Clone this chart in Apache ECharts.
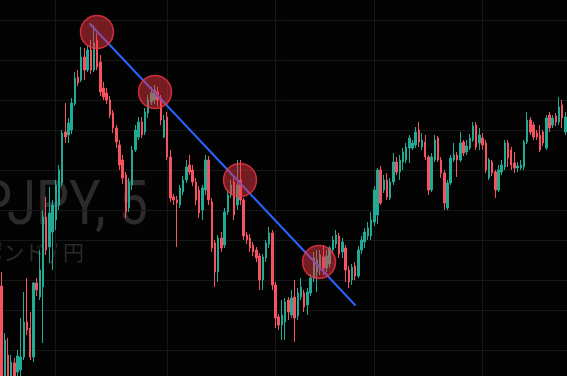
<!DOCTYPE html>
<html><head><meta charset="utf-8">
<script src="https://cdn.jsdelivr.net/npm/echarts@6/dist/echarts.min.js"></script>
<style>html,body{margin:0;padding:0;background:#030303;}#c{width:567px;height:376px;}</style>
</head><body><div id="c"></div>
<script>
const opens=[183.114,183.024,183.045,183.024,183.037,183.028,183.030,183.043,183.078,183.072,
183.043,183.117,183.103,183.113,183.183,183.153,183.168,183.180,183.195,183.217,
183.268,183.265,183.270,183.296,183.323,183.320,183.343,183.330,183.350,183.330,
183.360,183.338,183.312,183.307,183.300,183.287,183.272,183.255,183.240,183.225,
183.192,183.215,183.250,183.263,183.278,183.268,183.287,183.298,183.300,183.308,
183.302,183.263,183.283,183.243,183.203,183.200,183.195,183.208,183.220,183.235,
183.230,183.218,183.210,183.190,183.210,183.240,183.198,183.157,183.128,183.162,
183.155,183.188,183.205,183.218,183.195,183.220,183.200,183.165,183.162,183.155,
183.150,183.144,183.120,183.142,183.156,183.167,183.115,183.083,183.075,183.078,
183.100,183.085,183.103,183.084,183.103,183.107,183.095,183.107,183.122,183.128,
183.130,183.143,183.132,183.136,183.150,183.156,183.164,183.148,183.152,183.130,
183.120,183.134,183.124,183.150,183.158,183.164,183.164,183.178,183.185,183.230,
183.210,183.220,183.202,183.218,183.238,183.228,183.238,183.240,183.252,183.252,
183.255,183.270,183.253,183.258,183.243,183.210,183.240,183.262,183.240,183.227,
183.192,183.217,183.240,183.245,183.240,183.258,183.248,183.252,183.260,183.275,
183.257,183.262,183.257,183.222,183.238,183.228,183.210,183.228,183.233,183.257,
183.250,183.237,183.232,183.232,183.233,183.258,183.280,183.275,183.267,183.265,
183.268,183.252,183.285,183.275,183.284,183.278,183.295,183.268];
const closes=[183.020,183.060,183.022,183.038,183.024,183.044,183.043,183.078,183.070,183.043,
183.117,183.110,183.130,183.183,183.150,183.187,183.195,183.215,183.230,183.267,
183.263,183.277,183.297,183.322,183.317,183.343,183.330,183.350,183.330,183.357,
183.333,183.308,183.303,183.300,183.285,183.272,183.258,183.235,183.222,183.188,
183.218,183.250,183.270,183.278,183.265,183.288,183.300,183.307,183.310,183.300,
183.280,183.280,183.243,183.202,183.200,183.197,183.212,183.220,183.233,183.228,
183.218,183.200,183.187,183.212,183.240,183.200,183.152,183.128,183.162,183.152,
183.188,183.205,183.215,183.185,183.215,183.200,183.164,183.160,183.152,183.148,
183.142,183.120,183.143,183.157,183.167,183.115,183.082,183.075,183.085,183.098,
183.088,183.102,183.082,183.107,183.113,183.093,183.108,183.122,183.142,183.140,
183.145,183.132,183.144,183.152,183.160,183.165,183.146,183.158,183.130,183.118,
183.133,183.124,183.150,183.160,183.168,183.172,183.180,183.210,183.230,183.197,
183.220,183.203,183.218,183.238,183.228,183.240,183.248,183.253,183.262,183.257,
183.268,183.258,183.260,183.243,183.210,183.243,183.260,183.240,183.227,183.197,
183.217,183.242,183.245,183.240,183.257,183.247,183.254,183.262,183.274,183.253,
183.265,183.255,183.230,183.240,183.227,183.210,183.230,183.235,183.257,183.242,
183.235,183.232,183.234,183.235,183.258,183.280,183.268,183.263,183.263,183.250,
183.257,183.282,183.272,183.282,183.278,183.293,183.282,183.283];
const lows=[183.015,183.020,183.018,183.020,183.018,183.024,183.024,183.040,183.065,183.040,
183.038,183.104,183.100,183.057,183.145,183.137,183.130,183.170,183.190,183.214,
183.257,183.257,183.266,183.294,183.314,183.318,183.320,183.328,183.326,183.328,
183.330,183.304,183.300,183.296,183.282,183.267,183.252,183.230,183.216,183.182,
183.188,183.210,183.248,183.260,183.262,183.265,183.282,183.295,183.296,183.294,
183.275,183.262,183.240,183.198,183.195,183.153,183.192,183.205,183.217,183.225,
183.214,183.195,183.182,183.180,183.205,183.195,183.148,183.113,183.118,183.148,
183.152,183.185,183.202,183.180,183.190,183.195,183.160,183.156,183.148,183.144,
183.138,183.110,183.110,183.138,183.152,183.110,183.072,183.070,183.060,183.060,
183.080,183.082,183.058,183.080,183.100,183.088,183.085,183.104,183.118,183.108,
183.125,183.125,183.128,183.132,183.146,183.152,183.142,183.142,183.118,183.112,
183.115,183.120,183.122,183.146,183.152,183.160,183.160,183.174,183.176,183.195,
183.207,183.200,183.200,183.215,183.225,183.220,183.230,183.237,183.237,183.250,
183.252,183.253,183.250,183.240,183.205,183.208,183.238,183.238,183.222,183.190,
183.190,183.215,183.238,183.223,183.238,183.244,183.245,183.250,183.258,183.250,
183.250,183.250,183.227,183.220,183.224,183.202,183.208,183.225,183.230,183.233,
183.230,183.227,183.228,183.230,183.230,183.256,183.265,183.260,183.260,183.248,
183.254,183.250,183.268,183.272,183.274,183.275,183.272,183.265];
const highs=[183.128,183.067,183.062,183.045,183.042,183.050,183.082,183.108,183.122,183.088,
183.118,183.122,183.150,183.190,183.203,183.213,183.200,183.220,183.235,183.270,
183.297,183.282,183.302,183.328,183.330,183.353,183.352,183.355,183.360,183.375,
183.367,183.345,183.318,183.312,183.304,183.290,183.275,183.260,183.245,183.228,
183.222,183.254,183.275,183.283,183.283,183.292,183.305,183.313,183.315,183.313,
183.305,183.285,183.288,183.250,183.206,183.204,183.215,183.224,183.240,183.245,
183.235,183.222,183.214,183.215,183.245,183.244,183.202,183.160,183.165,183.168,
183.192,183.210,183.220,183.222,183.240,183.240,183.202,183.168,183.166,183.158,
183.153,183.147,183.146,183.160,183.173,183.170,183.118,183.086,183.100,183.102,
183.103,183.110,183.120,183.112,183.122,183.110,183.112,183.126,183.148,183.150,
183.150,183.155,183.150,183.154,183.164,183.170,183.167,183.162,183.155,183.134,
183.136,183.138,183.154,183.164,183.172,183.178,183.188,183.214,183.232,183.234,
183.225,183.227,183.222,183.247,183.243,183.245,183.252,183.257,183.265,183.260,
183.273,183.278,183.267,183.265,183.245,183.247,183.265,183.264,183.243,183.230,
183.220,183.245,183.257,183.248,183.268,183.260,183.260,183.266,183.278,183.278,
183.272,183.267,183.260,183.242,183.240,183.230,183.235,183.240,183.260,183.260,
183.253,183.248,183.238,183.240,183.260,183.288,183.283,183.278,183.270,183.275,
183.270,183.285,183.288,183.285,183.287,183.303,183.300,183.288];

const hGridLevels=[183.375,183.339,183.303,183.267,183.231,183.195,183.159,183.123,183.087,183.051];
const vGridIndex=[17,52,86,117,151];
const trendX=[27.76,110.96];
const trendY=[183.376,183.095];
const circleX=[29.95,48.17,74.85,99.66];
const circleY=[183.368,183.308,183.220,183.138];
const watermarkTitle='GBPJPY, 5';
const watermarkSub='英ポンド / 円';

const categories=opens.map((_,i)=>String(i));
const candles=opens.map((o,i)=>[o,closes[i],lows[i],highs[i]]);
const chart=echarts.init(document.getElementById('c'),null,{renderer:'canvas'});
const UP='#22ab94', DOWN='#f7525f';
chart.setOption({
  backgroundColor:'#030303',
  animation:false,
  grid:{left:0,right:0,top:0,bottom:0},
  xAxis:[
    {type:'category',data:categories,show:false,boundaryGap:true},
    {type:'value',min:-0.5,max:categories.length-0.5,show:false}
  ],
  yAxis:{type:'value',min:183.024,max:183.400,show:false,splitLine:{show:false}},
  graphic:[
    {type:'text',x:148,y:209,scaleX:0.86,z:0,silent:true,style:{text:watermarkTitle,fontSize:61,fontFamily:'Roboto',fill:'#2b2b2b',align:'right',verticalAlign:'middle'}},
    {type:'text',x:84,y:252,z:0,silent:true,style:{text:watermarkSub,fontSize:21,fontFamily:'Noto Sans CJK JP',fill:'#2b2b2b',align:'right',verticalAlign:'middle'}}
  ],
  series:[
    {type:'candlestick',data:candles,barWidth:'62%',z:2,
     itemStyle:{color:UP,color0:DOWN,borderColor:UP,borderColor0:DOWN,borderWidth:1},
     markLine:{silent:true,symbol:'none',z:1,animation:false,label:{show:false},
       lineStyle:{color:'#171717',width:1,type:'solid'},
       emphasis:{disabled:true},
       data:[...hGridLevels.map(v=>({yAxis:v})),...vGridIndex.map(i=>({xAxis:String(i)}))]}},
    {type:'line',xAxisIndex:1,data:trendX.map((x,i)=>[x,trendY[i]]),symbol:'none',z:3,
     lineStyle:{color:'#2962ff',width:2,cap:'round'}},
    {type:'scatter',xAxisIndex:1,data:circleX.map((x,i)=>[x,circleY[i]]),symbol:'circle',symbolSize:33,z:4,
     itemStyle:{color:'rgba(242,54,69,0.6)',borderColor:'#f23645',borderWidth:1.5}}
  ]
});
</script></body></html>
